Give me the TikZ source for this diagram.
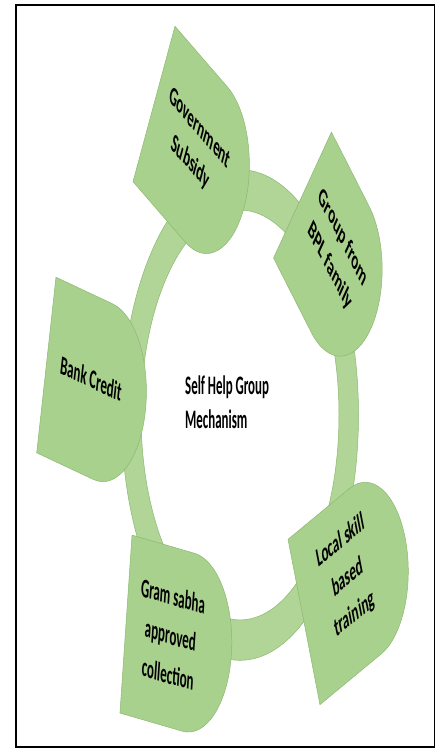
\documentclass[tikz,border=0pt]{standalone}
\usepackage{fontspec}
\setmainfont{Carlito}
\definecolor{leafgreen}{HTML}{A9D18E}
\definecolor{leafline}{HTML}{8CB870}

\begin{document}
\begin{tikzpicture}[
  x=1pt, y=1pt,
  leaf/.style={fill=leafgreen, draw=leafline, line width=0.5pt},
  leaf text/.style={font=\bfseries\fontsize{13}{19}\selectfont, align=center, inner sep=0pt, transform shape},
  ring/.style={fill=leafgreen!92!white, draw=leafline, line width=0.5pt, even odd rule}
]
\useasboundingbox (0,0) rectangle (437,-750);
\draw[line width=1.6pt] (16,-5) rectangle (434.5,-747);

\begin{scope}[shift={(240,-415)}, yscale=2.07]
  % ring behind the leaves
  \draw[ring] (0,0) circle[radius=118.5] (0,0) circle[radius=99];
  \node[font=\bfseries\fontsize{12.9}{16}\selectfont, align=left, anchor=base west,
        inner sep=0pt, transform shape] (shg) at (-55,-6.3) {Self Help Group\\Mechanism};

  \begin{scope}[shift={(-86,150.25)}, rotate=-29.2]
    \draw[leaf] (0,-43) -- (60,-43) arc[start angle=-90, end angle=90, radius=43] -- (0,43) -- cycle;
    \node[leaf text] (subsidy) at (45.7,2.2) {Government\\Subsidy};
  \end{scope}

  \begin{scope}[shift={(62.5,106.25)}, rotate=-43.6]
    \draw[leaf] (0,-42) -- (52,-42) arc[start angle=-90, end angle=90, radius=42] -- (0,42) -- cycle;
    \node[leaf text] (bpl) at (43.7,3.5) {Group from\\BPL family};
  \end{scope}

  \begin{scope}[shift={(-193.65,24.15)}, rotate=-12.8]
    \draw[leaf] (0,-43.5) -- (58,-43.5) arc[start angle=-90, end angle=90, radius=43.5] -- (0,43.5) -- cycle;
    \node[leaf text] (bank) at (45,3.6) {Bank Credit};
  \end{scope}

  \begin{scope}[shift={(-114,-101)}, rotate=-8]
    \draw[leaf] (0,-43.4) -- (63,-43.4) arc[start angle=-90, end angle=90, radius=43.4] -- (0,43.4) -- cycle;
    \node[leaf text] (gram) at (44.8,0.9) {Gram sabha\\approved\\collection};
  \end{scope}

  \begin{scope}[shift={(64,-100)}, rotate=21.8]
    \draw[leaf] (0,-43) -- (66,-43) arc[start angle=-90, end angle=90, radius=43] -- (0,43) -- cycle;
    \node[leaf text] (skill) at (48.4,3.5) {Local skill\\based\\training};
  \end{scope}
\end{scope}
\end{tikzpicture}
\end{document}
